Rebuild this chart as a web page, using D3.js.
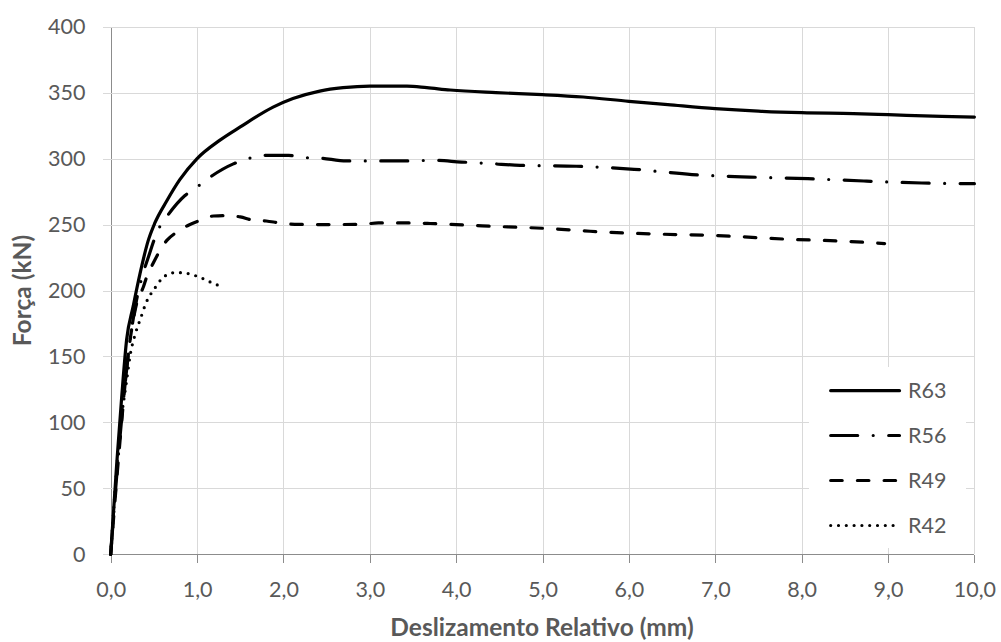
<!DOCTYPE html>
<html>
<head>
<meta charset="utf-8">
<script src="https://cdn.jsdelivr.net/npm/d3@7/dist/d3.min.js"></script>
<style>
  html, body { margin: 0; padding: 0; background: #fff; }
  svg { display: block; }
</style>
</head>
<body>
<svg id="chart" width="1001" height="642"></svg>
<script>
// ---------------- DATA ----------------
const seriesNames = ["R63", "R56", "R49", "R42"];

const r63 = [[0,0],[0.07,69],[0.127,119],[0.185,163],[0.26,188],[0.34,213],[0.435,238],[0.51,251],
  [0.65,268],[0.80,284],[1.0,300],[1.265,314],[1.5,324],[1.88,339],[2.11,345.5],[2.42,351.2],
  [2.69,353.8],[3.0,355],[3.43,355],[3.66,353.8],[3.93,352],[4.46,350],[5.0,348.5],[5.47,346.7],
  [6.0,343.4],[6.45,340.9],[7.0,337.9],[7.5,336],[8.0,334.8],[8.6,334.1],[9.0,333.3],[9.62,332],[10,331.5]];

const r56 = [[0,0],[0.08,68],[0.16,125],[0.22,160],[0.30,193],[0.38,214],[0.45,228],[0.49,236],
  [0.55,246],[0.65,256],[0.86,272],[1.0,278.5],[1.13,285],[1.42,296],[1.57,299.5],[1.75,302.5],
  [2.06,302.5],[2.23,300.7],[2.4,300.5],[2.73,298.2],[3.0,298.2],[3.39,298.2],[3.73,298.7],
  [4.06,297.4],[4.4,296.2],[4.74,294.9],[5.39,294.2],[6.06,291.9],[6.73,287.9],[7.4,286],
  [8.07,284.8],[8.72,283],[9.39,281.5],[10,281]];

const r49 = [[0,0],[0.1,80],[0.2,150],[0.3,190],[0.38,203],[0.42,211],[0.49,220.5],[0.55,228],
  [0.65,238],[0.76,244],[0.9,249.5],[1.03,253],[1.19,256.5],[1.34,256.8],[1.5,255.8],[1.65,253.3],
  [1.8,252.7],[1.96,251.2],[2.13,250.2],[2.5,250],[2.9,250.2],[3.1,251.2],[3.45,251.2],[3.7,250.8],
  [4.0,250],[4.3,249],[4.6,248.2],[5.06,247],[5.55,244.9],[6.37,242.7],[6.92,241.9],[7.83,238.9],
  [8.4,237.6],[8.77,236.4],[8.96,235.6]];

const r42 = [[0,0],[0.108,94],[0.185,132],[0.223,150],[0.289,168],[0.347,179],[0.409,190.6],
  [0.447,195.7],[0.495,200],[0.54,204.8],[0.60,209.3],[0.68,212.9],[0.765,213.6],[0.85,213.3],
  [0.94,212.1],[1.02,210.3],[1.11,207.8],[1.19,205.3],[1.27,203.5]];

const xTickValues = [0,1,2,3,4,5,6,7,8,9,10];
const xTickLabels = ["0,0","1,0","2,0","3,0","4,0","5,0","6,0","7,0","8,0","9,0","10,0"];
const yTickValues = [0,50,100,150,200,250,300,350,400];
const yTickLabels = ["0","50","100","150","200","250","300","350","400"];

const xTitle = "Deslizamento Relativo (mm)";
const yTitle = "Força (kN)";

// ---------------- STYLE ----------------
const FONT = "Lato, 'Open Sans', sans-serif";
const TEXT = "#595959";
const GRID = "#d9d9d9";
const AXIS = "#8c8c8c";
const dashes = {
  R63: null,
  R56: "27,15.5,0,15.5",
  R49: "11.5,15.2",
  R42: "0,7.8"
};
const seriesData = { R63: r63, R56: r56, R49: r49, R42: r42 };

// ---------------- CHART ----------------
const svg = d3.select("#chart");
const x = d3.scaleLinear().domain([0, 10]).range([110.7, 974.4]);
const y = d3.scaleLinear().domain([0, 400]).range([554.3, 26.7]);

// gridlines
const grid = svg.append("g").attr("shape-rendering", "crispEdges");
grid.selectAll("line.h").data(yTickValues.filter(v => v > 0)).join("line")
  .attr("x1", x(0)).attr("x2", x(10))
  .attr("y1", d => Math.round(y(d)) + 0.5).attr("y2", d => Math.round(y(d)) + 0.5)
  .attr("stroke", GRID).attr("stroke-width", 1);
grid.selectAll("line.v").data(xTickValues.filter(v => v > 0)).join("line")
  .attr("y1", y(400)).attr("y2", y(0))
  .attr("x1", d => Math.round(x(d)) + 0.5).attr("x2", d => Math.round(x(d)) + 0.5)
  .attr("stroke", GRID).attr("stroke-width", 1);

// axes
const xAxis = d3.axisBottom(x).tickValues(xTickValues).tickSize(8).tickPadding(19)
  .tickFormat((d, i) => xTickLabels[i]);
const yAxis = d3.axisLeft(y).tickValues(yTickValues).tickSize(9).tickPadding(17)
  .tickFormat((d, i) => yTickLabels[i]);

const gx = svg.append("g").attr("transform", `translate(0,${Math.round(y(0)) + 0.5})`).call(xAxis);
const gy = svg.append("g").attr("transform", `translate(${Math.round(x(0)) + 0.5},0)`).call(yAxis);
[gx, gy].forEach(g => {
  g.select(".domain").attr("stroke", AXIS).attr("shape-rendering", "crispEdges");
  g.selectAll(".tick line").attr("stroke", AXIS).attr("shape-rendering", "crispEdges");
  g.selectAll(".tick text").attr("fill", TEXT).style("font-family", FONT).style("font-size", "21.5px");
});
gy.selectAll(".tick line").attr("stroke", GRID);
gy.select(".domain").attr("d", `M0,${y(400)}V${y(0)}`);
gx.select(".domain").attr("d", `M${x(0)},0H${x(10)}`);

// axis titles
svg.append("text").attr("x", 542).attr("y", 636)
  .attr("text-anchor", "middle").attr("fill", TEXT)
  .style("font-family", FONT).style("font-size", "24.5px").style("font-weight", "bold")
  .text(xTitle);
svg.append("text").attr("transform", `translate(31,290.5) rotate(-90)`)
  .attr("text-anchor", "middle").attr("fill", TEXT)
  .style("font-family", FONT).style("font-size", "24.5px").style("font-weight", "bold")
  .text(yTitle);

// legend background
const legend = svg.append("g");
legend.append("rect").attr("x", 809).attr("y", 367).attr("width", 157).attr("height", 181)
  .attr("fill", "#fff");

// series lines
const line = d3.line().x(d => x(d[0])).y(d => y(d[1])).curve(d3.curveMonotoneX);
const plot = svg.append("g");
seriesNames.slice().reverse().forEach(name => {
  plot.append("path").datum(seriesData[name])
    .attr("d", line)
    .attr("fill", "none").attr("stroke", "#000").attr("stroke-width", 3.2)
    .attr("stroke-linecap", "round").attr("stroke-linejoin", "round")
    .attr("stroke-dasharray", dashes[name]);
});

// legend entries
const legY = [390.7, 435.5, 480.5, 525.5];
seriesNames.forEach((name, i) => {
  legend.append("line").attr("x1", 830.7).attr("x2", 899.5)
    .attr("y1", legY[i]).attr("y2", legY[i])
    .attr("stroke", "#000").attr("stroke-width", 3.2).attr("stroke-linecap", "round")
    .attr("stroke-dasharray", dashes[name]);
  legend.append("text").attr("x", 908).attr("y", legY[i]).attr("dy", "0.36em")
    .attr("fill", TEXT).style("font-family", FONT).style("font-size", "21.5px")
    .text(name);
});
</script>
</body>
</html>
